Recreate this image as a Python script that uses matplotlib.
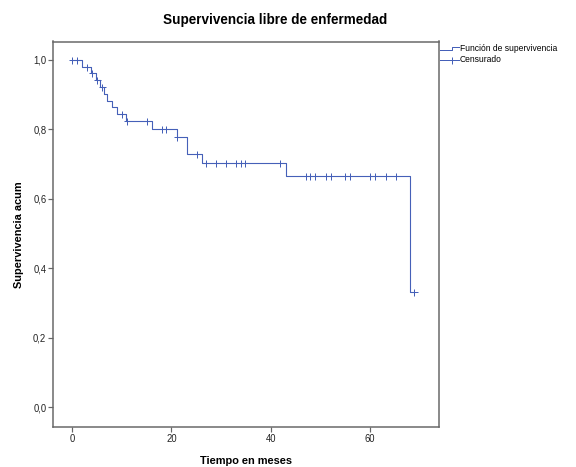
import matplotlib
matplotlib.use("Agg")
import matplotlib.pyplot as plt
from matplotlib.lines import Line2D

# Kaplan-Meier step curve: times of events and survival level after each step
step_times = [0.0, 2.0, 3.8, 4.7, 5.6, 6.4, 7.1, 8.0, 9.0, 10.9, 16.0, 21.1, 23.1, 26.1, 43.2, 68.1]
step_surv = [1.0, 0.980, 0.961, 0.941, 0.922, 0.902, 0.882, 0.863, 0.843, 0.822,
             0.800, 0.777, 0.729, 0.702, 0.665, 0.333]
end_time = 69.0

# Censored observations (months)
censor_times = [0.0, 0.9, 3.0, 4.0, 5.0, 5.9, 10.0, 11.0, 15.0, 18.1, 18.9, 21.1, 25.1,
                26.9, 29.0, 31.0, 33.1, 34.0, 34.9, 41.9, 47.1, 48.0, 49.0, 51.2, 52.2,
                55.1, 56.1, 60.1, 61.0, 63.2, 65.2, 68.9]

x_ticks = [0, 20, 40, 60]
y_ticks = [0.0, 0.2, 0.4, 0.6, 0.8, 1.0]

title = "Supervivencia libre de enfermedad"
x_label = "Tiempo en meses"
y_label = "Supervivencia acum"
legend_labels = ["Función de supervivencia", "Censurado"]

blue = "#4560b8"
frame = "#666666"
font = "Liberation Sans"

W, H = 576, 467
fig = plt.figure(figsize=(W / 72, H / 72), dpi=72)
ax = fig.add_axes([53.3 / W, 1 - 427 / H, (439 - 53.3) / W, (427 - 41.5) / H])

xs = step_times + [end_time]
ys = step_surv + [step_surv[-1]]
ax.step(xs, ys, where="post", color=blue, lw=1.1)


def surv_at(t):
    s = step_surv[0]
    for tt, v in zip(step_times, step_surv):
        if t >= tt:
            s = v
    return s


ax.plot(censor_times, [surv_at(t) for t in censor_times], linestyle="none",
        marker="+", markersize=7, mew=1.0, color=blue)

ax.set_xlim(-3.83, 73.97)
ax.set_ylim(-0.0566, 1.052)
ax.set_xticks(x_ticks)
ax.set_xticklabels([str(t) for t in x_ticks])
ax.set_yticks(y_ticks)
ax.set_yticklabels([f"{v:.1f}".replace(".", ",") for v in y_ticks])

for s in ax.spines.values():
    s.set_color(frame)
    s.set_linewidth(1.5)
ax.tick_params(direction="out", length=5, width=1.2, color=frame,
               labelsize=9.5, labelcolor="#222222", pad=2)
for lab in ax.get_xticklabels() + ax.get_yticklabels():
    lab.set_family(font)

ax.set_xlabel(x_label, family=font, fontsize=11, fontweight="bold", labelpad=12)
ax.set_ylabel(y_label, family=font, fontsize=11, fontweight="bold", labelpad=9)

fig.text(275 / W, 1 - 20 / H, title, ha="center", va="center",
         family=font, fontsize=13.5, fontweight="bold")

# Legend drawn outside the axes at top right
fx = lambda px: px / W
fy = lambda py: 1 - py / H
fig.add_artist(Line2D([fx(440), fx(452), fx(452), fx(458.5)],
                      [fy(50), fy(50), fy(47), fy(47)],
                      color=blue, lw=1.0, transform=fig.transFigure))
fig.add_artist(Line2D([fx(440), fx(458.5)], [fy(59.5), fy(59.5)],
                      color=blue, lw=1.0, transform=fig.transFigure))
fig.add_artist(Line2D([fx(451.5)], [fy(59.5)], marker="+", markersize=7, mew=1.0,
                      color=blue, transform=fig.transFigure))
fig.text(fx(459.5), fy(48.5), legend_labels[0], ha="left", va="center",
         family=font, fontsize=8.5)
fig.text(fx(459.5), fy(60), legend_labels[1], ha="left", va="center",
         family=font, fontsize=8.5)

fig.savefig("out.png", dpi=72, facecolor="white")
